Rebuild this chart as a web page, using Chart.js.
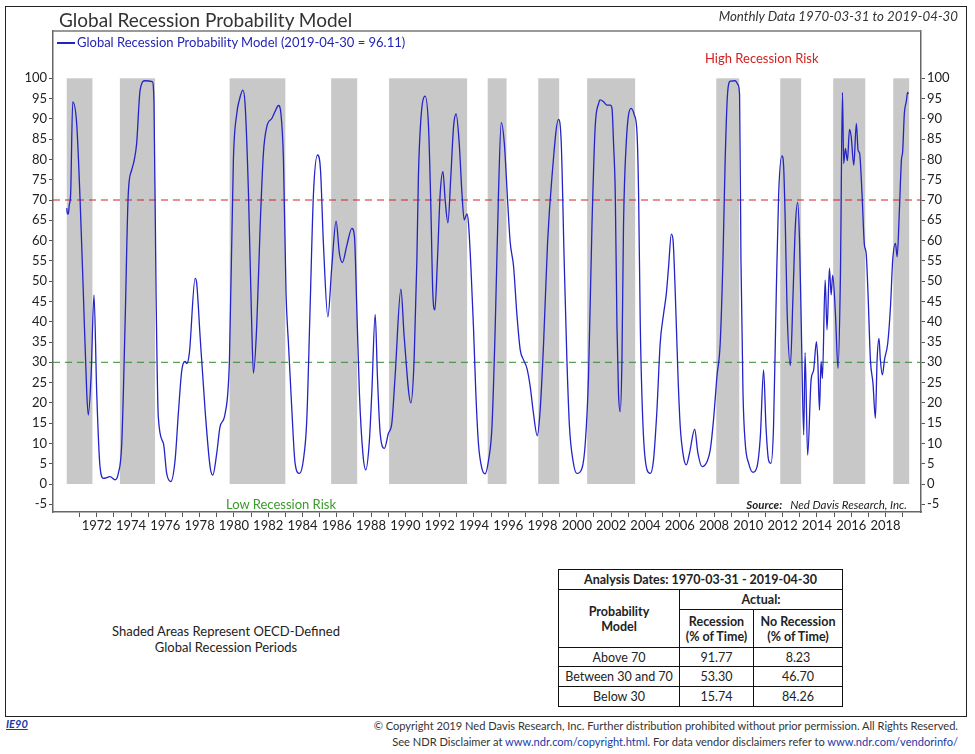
<!DOCTYPE html>
<html lang="en">
<head>
<meta charset="utf-8">
<title>Global Recession Probability Model</title>
<script src="https://cdn.jsdelivr.net/npm/chart.js@4.4.1/dist/chart.umd.min.js"></script>
<style>
  html, body { margin: 0; padding: 0; background: #fff; }
  #page { position: relative; width: 975px; height: 754px; overflow: hidden;
          font-family: Lato, 'Open Sans', sans-serif; color: #222; }
  #frame { position: absolute; left: 5px; top: 6px; width: 962px; height: 711px;
           border: 1.5px solid #222; box-sizing: border-box; }
  #chart { position: absolute; left: 0; top: 0; }
  .txt { position: absolute; white-space: nowrap; line-height: 1; }
  #title { left: 59px; top: 10px; font-size: 19px; color: #333; }
  #period { right: 17px; top: 10px; font-size: 13.3px; font-style: italic; color: #333; }
  #legendLine { position: absolute; left: 57px; top: 42px; width: 18px; height: 1.5px; background: #2424c0; }
  #legendText { left: 77px; top: 36px; font-size: 13px; color: #2424b4; }
  #high { left: 705px; top: 52px; font-size: 13px; color: #d42020; }
  #low { left: 226px; top: 498px; font-size: 13px; color: #3a9a2a; }
  #source { right: 68px; top: 499px; font-size: 11.5px; font-style: italic; }
  #shaded { left: 96px; top: 623px; width: 260px; text-align: center; font-size: 13px; line-height: 16px; }
  #stats { position: absolute; left: 558px; top: 569px; border-collapse: collapse;
           font-size: 12.5px; color: #222; }
  #stats td { border: 1px solid #111; text-align: center; padding: 0 2px; line-height: 15px; }
  #stats .b { font-weight: bold; }
  #ie90 { left: 6px; top: 718px; font-size: 11px; font-weight: bold; font-style: italic;
          color: #1a3aa8; text-decoration: underline; }
  .foot { right: 17px; font-size: 11.1px; color: #333; }
  .foot a { color: #1a3aa8; text-decoration: none; }
</style>
</head>
<body>
<div id="page">
  <div id="frame"></div>
  <canvas id="chart" width="975" height="540"></canvas>

  <div class="txt" id="title">Global Recession Probability Model</div>
  <div class="txt" id="period">Monthly Data 1970-03-31 to 2019-04-30</div>
  <div id="legendLine"></div>
  <div class="txt" id="legendText">Global Recession Probability Model (2019-04-30 = 96.11)</div>
  <div class="txt" id="high">High Recession Risk</div>
  <div class="txt" id="low">Low Recession Risk</div>
  <div class="txt" id="source"><b>Source:</b>&nbsp;&nbsp; Ned Davis Research, Inc.</div>

  <div class="txt" id="shaded">Shaded Areas Represent OECD-Defined<br>Global Recession Periods</div>

  <table id="stats">
    <tr style="height:20px"><td class="b" colspan="3">Analysis Dates: 1970-03-31 - 2019-04-30</td></tr>
    <tr style="height:20px"><td class="b" rowspan="2" style="width:116px">Probability<br>Model</td><td class="b" colspan="2">Actual:</td></tr>
    <tr style="height:38px"><td class="b" style="width:69px">Recession<br>(% of Time)</td><td class="b" style="width:84px">No Recession<br>(% of Time)</td></tr>
    <tr style="height:19px"><td>Above 70</td><td>91.77</td><td>8.23</td></tr>
    <tr style="height:20px"><td>Between 30 and 70</td><td>53.30</td><td>46.70</td></tr>
    <tr style="height:20px"><td>Below 30</td><td>15.74</td><td>84.26</td></tr>
  </table>

  <div class="txt" id="ie90">IE90</div>
  <div class="txt foot" style="top:720px">© Copyright 2019 Ned Davis Research, Inc. Further distribution prohibited without prior permission. All Rights Reserved.</div>
  <div class="txt foot" style="top:736px">See NDR Disclaimer at <a>www.ndr.com/copyright.html</a>. For data vendor disclaimers refer to <a>www.ndr.com/vendorinfo/</a></div>
</div>

<script>
// 月次データを目視で読み取った転換点 (小数年, 確率 %)
const dates = [
  1970.25, 1970.29, 1970.34, 1970.40, 1970.48, 1970.60, 1970.83, 1971.03, 1971.22, 1971.42,
  1971.51, 1971.67, 1971.84, 1972.00, 1972.19, 1972.39, 1972.78, 1973.07, 1973.26, 1973.46,
  1973.65, 1973.84, 1974.04, 1974.19, 1974.33, 1974.53, 1974.82, 1975.24, 1975.34, 1975.46,
  1975.59, 1975.89, 1976.08, 1976.32, 1976.57, 1976.76, 1976.96, 1977.15, 1977.25, 1977.40,
  1977.74, 1977.83, 1978.03, 1978.32, 1978.61, 1978.77, 1979.00, 1979.19, 1979.49, 1979.74,
  1979.97, 1980.17, 1980.32, 1980.52, 1980.65, 1980.85, 1981.04, 1981.14, 1981.33, 1981.53,
  1981.72, 1981.92, 1982.21, 1982.40, 1982.60, 1982.74, 1982.89, 1983.04, 1983.18, 1983.38,
  1983.57, 1983.82, 1984.05, 1984.25, 1984.44, 1984.64, 1984.88, 1985.05, 1985.22, 1985.48,
  1985.71, 1985.96, 1986.15, 1986.33, 1986.59, 1986.88, 1987.03, 1987.17, 1987.32, 1987.52,
  1987.69, 1987.89, 1988.04, 1988.24, 1988.37, 1988.53, 1988.78, 1989.01, 1989.21, 1989.40,
  1989.74, 1989.93, 1990.32, 1990.51, 1990.67, 1990.76, 1990.90, 1991.15, 1991.35, 1991.49,
  1991.60, 1991.72, 1991.87, 1992.03, 1992.19, 1992.32, 1992.48, 1992.65, 1992.81, 1992.96,
  1993.14, 1993.30, 1993.43, 1993.59, 1993.68, 1993.82, 1993.97, 1994.11, 1994.26, 1994.46,
  1994.65, 1994.85, 1995.05, 1995.24, 1995.43, 1995.59, 1995.77, 1995.96, 1996.11, 1996.31,
  1996.50, 1996.70, 1996.89, 1997.09, 1997.28, 1997.47, 1997.69, 1997.86, 1998.06, 1998.29,
  1998.55, 1998.93, 1999.09, 1999.26, 1999.42, 1999.57, 1999.77, 2000.00, 2000.30, 2000.49,
  2000.68, 2000.88, 2001.07, 2001.27, 2001.36, 2001.56, 2001.76, 2001.95, 2002.05, 2002.14,
  2002.24, 2002.34, 2002.43, 2002.53, 2002.63, 2002.72, 2002.88, 2003.16, 2003.35, 2003.51,
  2003.60, 2003.70, 2003.86, 2004.09, 2004.28, 2004.47, 2004.67, 2004.86, 2005.06, 2005.22,
  2005.35, 2005.51, 2005.61, 2005.74, 2005.90, 2006.03, 2006.22, 2006.38, 2006.57, 2006.87,
  2007.06, 2007.30, 2007.59, 2007.78, 2007.97, 2008.17, 2008.36, 2008.52, 2008.65, 2008.79,
  2008.95, 2009.24, 2009.40, 2009.49, 2009.57, 2009.69, 2009.82, 2010.02, 2010.27, 2010.51,
  2010.70, 2010.89, 2011.03, 2011.18, 2011.32, 2011.47, 2011.63, 2011.77, 2011.96, 2012.06,
  2012.16, 2012.26, 2012.45, 2012.61, 2012.74, 2012.88, 2012.99, 2013.09, 2013.23, 2013.31,
  2013.46, 2013.66, 2013.81, 2013.97, 2014.05, 2014.15, 2014.24, 2014.32, 2014.48, 2014.59,
  2014.73, 2014.83, 2014.92, 2015.08, 2015.23, 2015.37, 2015.49, 2015.56, 2015.66, 2015.78,
  2015.90, 2016.00, 2016.15, 2016.30, 2016.40, 2016.49, 2016.63, 2016.77, 2016.87, 2016.98,
  2017.12, 2017.27, 2017.41, 2017.51, 2017.62, 2017.70, 2017.82, 2017.94, 2018.13, 2018.29,
  2018.42, 2018.58, 2018.68, 2018.81, 2018.93, 2019.00, 2019.10, 2019.21, 2019.29, 2019.33
];

const values = [
  68, 66.7, 66.5, 68.8, 71.6, 94.2, 88.9, 70, 47, 22.3,
  17, 26.5, 46.6, 22.4, 4.3, 1.4, 1.8, 1.0, 2.6, 10,
  38.8, 71.6, 77.4, 79.9, 84, 97.1, 99.4, 99.2, 93.8, 47,
  16.6, 10, 2.6, 0.6, 5.9, 17.4, 28, 30.2, 29.7, 32.2,
  50.7, 49.5, 36.3, 18.2, 4.3, 2.2, 7.6, 14.1, 17.4, 30.6,
  79.9, 91.4, 94.7, 97.1, 93.8, 71.6, 38.8, 27.3, 38.8, 63.4,
  81.5, 88.1, 90.1, 91.8, 93.3, 91.4, 79.9, 47, 34.7, 18.2,
  5.1, 2.6, 5.9, 15.8, 42.9, 71.6, 81.1, 77.4, 59.3, 41.2,
  53.6, 64.8, 56.9, 54.6, 58.9, 63, 61, 42.9, 22.3, 7.6,
  3.5, 10, 22.3, 41.8, 26.5, 12.5, 8.8, 12.5, 15, 26.5,
  48, 36.3, 20, 30.6, 55.2, 75.8, 89.7, 95.6, 88.1, 67.5,
  47, 42.9, 55.2, 71.6, 77, 70, 64.4, 75.8, 88.1, 91.2,
  84, 71.6, 65.1, 66.6, 64.3, 53.6, 38.8, 22.3, 10, 3.9,
  2.5, 5.9, 14.1, 38.8, 71.6, 89.1, 84, 70, 59.7, 53.6,
  42, 33, 30.6, 28.5, 24, 17.4, 11.9, 18.2, 34.7, 59.3,
  75.8, 89.9, 84, 55.2, 30.6, 14.1, 5.9, 2.6, 3.9, 10,
  26.5, 63.4, 88.1, 93.8, 94.7, 94.2, 93.4, 93.4, 92.6, 84,
  71.6, 38.8, 22.3, 17.8, 30.6, 63.4, 84, 92.6, 91, 86.4,
  71.6, 38.8, 14.1, 3.5, 2.6, 5.9, 18.2, 34.7, 42, 47,
  53.6, 61.6, 60.1, 47, 26.5, 14.1, 6.7, 4.7, 7.6, 13.5,
  7.6, 4.3, 5.5, 8.4, 15.8, 26.5, 34.7, 55.2, 79.9, 96.3,
  99.3, 99.4, 98.4, 95.9, 55.2, 22.3, 10, 5.1, 2.9, 4.3,
  11.7, 28.1, 14.1, 5.9, 5.1, 14.1, 47, 71.6, 80.9, 78.2,
  63.4, 42.9, 29.2, 47, 63.4, 69.4, 59.3, 38.8, 12.1, 32.4,
  7.1, 25.6, 28.1, 35.1, 30.6, 18.2, 30.2, 26, 50.3, 38,
  53.2, 46.6, 51.5, 42, 28.5, 51.1, 96.5, 79, 82.7, 79.7,
  87.4, 85.6, 78.6, 88.9, 82.3, 81.5, 71.6, 58.9, 57, 47,
  30.6, 24.8, 16.2, 30.6, 35.9, 30.6, 26.9, 30.6, 34.7, 43.7,
  55.2, 59.3, 56, 67.5, 79.9, 81.9, 91.4, 94.2, 96.5, 96.11
];

// OECD 定義のグローバル景気後退期 (網掛け)
const recStart = [1970.25, 1973.35, 1979.75, 1985.67, 1989.05, 1994.80, 1997.75, 2000.60, 2008.13, 2011.86, 2014.95, 2018.45];
const recEnd   = [1971.75, 1975.40, 1983.00, 1987.19, 1993.60, 1995.90, 1998.97, 2003.40, 2009.47, 2013.08, 2016.82, 2019.38];

// 閾値ライン
const highRisk = 70;
const lowRisk = 30;

// 目盛り
const yTickValues = [-5, 0, 5, 10, 15, 20, 25, 30, 35, 40, 45, 50, 55, 60, 65, 70, 75, 80, 85, 90, 95, 100];
const xTickYears = [1971, 1972, 1973, 1974, 1975, 1976, 1977, 1978, 1979, 1980, 1981, 1982, 1983, 1984, 1985,
  1986, 1987, 1988, 1989, 1990, 1991, 1992, 1993, 1994, 1995, 1996, 1997, 1998, 1999, 2000, 2001, 2002,
  2003, 2004, 2005, 2006, 2007, 2008, 2009, 2010, 2011, 2012, 2013, 2014, 2015, 2016, 2017, 2018, 2019];

const xMin = 1969.45, xMax = 2020.07;
const yMin = -6.9, yMax = 111.66;

const tickFont = { family: 'Lato', size: 13 };

/** 網掛けと上枠線を描くプラグイン */
const recessionBands = {
  id: 'recessionBands',
  beforeDatasetsDraw(chart) {
    const { ctx, chartArea: a, scales: { x, y } } = chart;
    ctx.save();
    ctx.beginPath();
    ctx.rect(a.left, a.top, a.right - a.left, a.bottom - a.top);
    ctx.clip();
    ctx.fillStyle = '#c8c8c8';
    const yTop = y.getPixelForValue(100);
    const yBot = y.getPixelForValue(0);
    recStart.forEach((s, i) => {
      const x0 = x.getPixelForValue(s);
      const x1 = x.getPixelForValue(recEnd[i]);
      ctx.fillRect(x0, yTop, x1 - x0, yBot - yTop);
    });
    ctx.restore();
  },
  afterDraw(chart) {
    const { ctx, chartArea: a } = chart;
    ctx.save();
    ctx.strokeStyle = '#777';
    ctx.lineWidth = 1.5;
    ctx.beginPath();
    ctx.moveTo(a.left, a.top);
    ctx.lineTo(a.right, a.top);
    ctx.stroke();
    ctx.restore();
  }
};

function yAxis(position, width) {
  return {
    type: 'linear',
    position,
    min: yMin,
    max: yMax,
    afterBuildTicks: (s) => { s.ticks = yTickValues.map(v => ({ value: v })); },
    afterFit: (s) => { s.width = width; },
    ticks: { font: tickFont, color: '#222', padding: 2, callback: v => String(v) },
    grid: { drawOnChartArea: false, drawTicks: true, tickLength: 4, color: '#555' },
    border: { color: '#666', width: 1.5 }
  };
}

new Chart(document.getElementById('chart').getContext('2d'), {
  type: 'line',
  data: {
    datasets: [
      {
        label: 'Global Recession Probability Model',
        data: dates.map((d, i) => ({ x: d, y: values[i] })),
        borderColor: '#2323c8',
        borderWidth: 1.3,
        pointRadius: 0,
        cubicInterpolationMode: 'monotone',
        fill: false
      },
      {
        label: 'High Recession Risk',
        data: [{ x: xMin, y: highRisk }, { x: xMax, y: highRisk }],
        borderColor: '#d62020',
        borderWidth: 1,
        borderDash: [7, 5],
        pointRadius: 0
      },
      {
        label: 'Low Recession Risk',
        data: [{ x: xMin, y: lowRisk }, { x: xMax, y: lowRisk }],
        borderColor: '#2e8a2e',
        borderWidth: 1,
        borderDash: [7, 5],
        pointRadius: 0
      }
    ]
  },
  options: {
    responsive: false,
    animation: false,
    devicePixelRatio: 1,
    layout: { padding: { top: 31, left: 0, right: 0, bottom: 0 } },
    plugins: { legend: { display: false }, tooltip: { enabled: false } },
    scales: {
      x: {
        type: 'linear',
        min: xMin,
        max: xMax,
        afterBuildTicks: (s) => { s.ticks = xTickYears.map(v => ({ value: v })); },
        afterFit: (s) => { s.height = 28; },
        ticks: {
          autoSkip: false, maxRotation: 0, font: tickFont, color: '#222', padding: 1,
          callback: v => (v % 2 === 0 ? String(v) : '')
        },
        grid: { drawOnChartArea: false, drawTicks: true, tickLength: 5, color: '#555' },
        border: { color: '#666', width: 1.5 }
      },
      y: yAxis('left', 53),
      y2: yAxis('right', 54)
    }
  },
  plugins: [recessionBands]
});
</script>
</body>
</html>
